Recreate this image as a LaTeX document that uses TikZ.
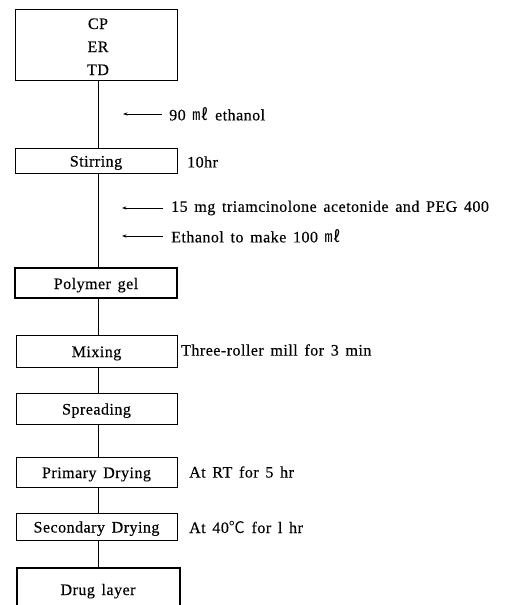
\documentclass[tikz,border=0pt]{standalone}
\usepackage{fontspec}
\setmainfont{Liberation Serif}[LetterSpace=3,WordSpace=1.5,FakeBold=0.3]
\newfontfamily\cjk{Noto Sans CJK KR}
\usetikzlibrary{arrows.meta}
\begin{document}
\begin{tikzpicture}[x=1pt,y=-1pt,
  stepbox/.style={draw,line width=0.8pt},
  thickbox/.style={draw,line width=1.8pt},
  lbl/.style={anchor=west,inner sep=0pt,font=\fontsize{16}{18}\selectfont},
  boxtxt/.style={font=\fontsize{16}{18}\selectfont,inner sep=0pt,text height=12pt,text depth=0pt},
  link/.style={line width=0.8pt},
  feed/.style={line width=0.8pt,-{Stealth[length=4.5pt,width=3.2pt]}}]
\useasboundingbox (0,0) rectangle (517,605);
\begin{scope}
\clip (0,0) rectangle (517,605);
% boxes
\draw[stepbox] (15,9) rectangle (177,80);
\node[boxtxt] (cp) at (98,23) {CP};
\node[boxtxt] (er) at (98,46) {ER};
\node[boxtxt] (td) at (98,69) {TD};
\coordinate (topb) at (98,80);
\node[stepbox,boxtxt,minimum width=162,minimum height=25] (stir) at (96,160.5) {Stirring};
\node[thickbox,boxtxt,minimum width=162,minimum height=30] (gel) at (96,283) {Polymer gel};
\node[stepbox,boxtxt,minimum width=161,minimum height=32] (mix) at (96.5,351) {Mixing};
\node[stepbox,boxtxt,minimum width=161,minimum height=31] (spread) at (96.5,408.5) {Spreading};
\node[stepbox,boxtxt,minimum width=161,minimum height=30] (prim) at (96.5,472) {Primary Drying};
\node[stepbox,boxtxt,minimum width=161,minimum height=27] (sec) at (96.5,526.5) {Secondary Drying};
\draw[thickbox] (17,568) rectangle (180,625);
\node[boxtxt] (drug) at (98,589) {Drug layer};
% connectors
\draw[link] (topb) -- (stir.north -| topb);
\draw[link] (stir.south -| topb) -- (gel.north -| topb);
\draw[link] (gel.south -| topb) -- (mix.north -| topb);
\draw[link] (mix.south -| topb) -- (spread.north -| topb);
\draw[link] (spread.south -| topb) -- (prim.north -| topb);
\draw[link] (prim.south -| topb) -- (sec.north -| topb);
\draw[link] (sec.south -| topb) -- (98,568);
% feeds
\coordinate (f1) at (162,114); \coordinate (t1) at (123,114);
\coordinate (f2) at (163,208); \coordinate (t2) at (122,208);
\coordinate (f3) at (163,236); \coordinate (t3) at (122,236);
\draw[feed] (f1) -- (t1);
\draw[feed] (f2) -- (t2);
\draw[feed] (f3) -- (t3);
\node[lbl] (l1) at (169,114) {90 {\cjk ㎖} ethanol};
\node[lbl] (l2) at (171,208) {15 mg triamcinolone acetonide and PEG 400};
\node[lbl] (l3) at (171,236) {Ethanol to make 100 {\cjk ㎖}};
% side notes
\node[lbl] (n1) at (187,162) {10hr};
\node[lbl] (n2) at (181,350) {Three-roller mill for 3 min};
\node[lbl] (n3) at (189,472) {At RT for 5 hr};
\node[lbl] (n4) at (189,527) {At 40{\cjk ℃} for l hr};
\end{scope}
\end{tikzpicture}
\end{document}
